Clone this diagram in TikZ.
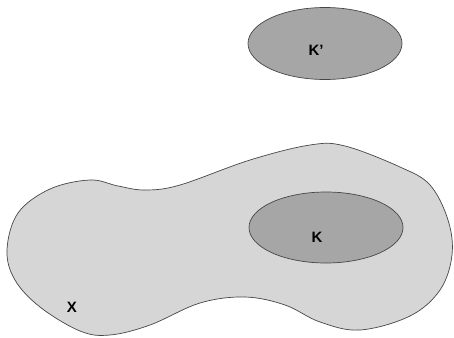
\documentclass[tikz,border=0pt]{standalone}
\usepackage{fontspec}
\setmainfont{Liberation Sans}
\usetikzlibrary{shapes.geometric}
\definecolor{blobfill}{RGB}{214,214,214}
\definecolor{setfill}{RGB}{166,166,166}
\definecolor{edge}{RGB}{70,70,70}
\begin{document}
\begin{tikzpicture}[x=1pt,y=-1pt,
  setshape/.style={ellipse,draw=edge,fill=setfill,line width=0.7pt,minimum width=154pt,minimum height=72pt,inner sep=0pt},
  lbl/.style={font=\fontsize{15}{17}\selectfont\bfseries,text=black}]
\useasboundingbox (0,0) rectangle (454,337);
\draw[draw=edge,fill=blobfill,line width=0.7pt] plot[smooth cycle,tension=0.6] coordinates {
 (7,250) (18,213) (50,189) (90,180) (118,186) (145,190) (180,185) (250,160) (310,145) (345,146)
 (400,167) (430,185) (448,220) (452,255) (440,290) (410,316) (360,330) (320,322) (285,305)
 (245,297) (200,303) (150,325) (110,335) (80,331) (40,307) (15,280)};
\node[setshape] (Kp) at (325,43.5) {};
\node[setshape,minimum height=71pt] (K) at (326,227.5) {};
\node[lbl] (Kplabel) at (316,50) {K'};
\node[lbl] (Klabel) at (317,237) {K};
\node[lbl] (Xlabel) at (72,307) {X};
\end{tikzpicture}
\end{document}
